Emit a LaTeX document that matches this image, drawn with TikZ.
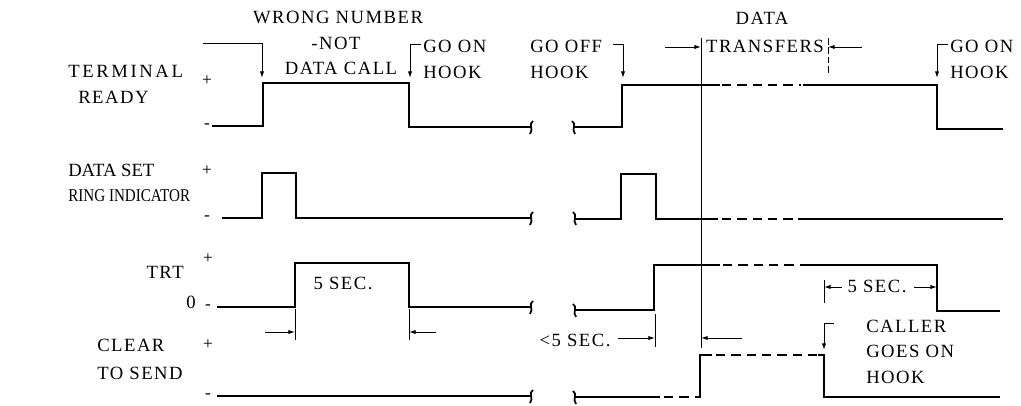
\documentclass[tikz,border=0pt]{standalone}
\usepackage{fontspec}
\setmainfont{Liberation Serif}
\newfontfamily\lblA{Liberation Serif}[LetterSpace=8]
\newfontfamily\lblB{Liberation Serif}[LetterSpace=14]
\newfontfamily\lblC{Liberation Serif}[LetterSpace=0]
\usetikzlibrary{arrows.meta}
\newcommand\sigbreak[3]{% #1 x, #2 y, #3 = 1 left end, -1 right start
  \draw[sig, line width=1.3pt] (#1+2*#3,#2-6) .. controls (#1-3*#3,#2-3) and (#1+3*#3,#2+2) .. (#1-1*#3,#2+7);}
\begin{document}
\begin{tikzpicture}[x=0.75pt,y=-0.75pt,
  sig/.style={line width=1.5pt, line join=miter},
  dsig/.style={sig, dash pattern=on 7pt off 4.5pt},
  ann/.style={line width=0.7pt},
  arr/.style={ann, -{Latex[length=5pt,width=3.2pt]}},
  lbl/.style={inner sep=0pt, font=\lblA\fontsize{14}{16}\selectfont},
  lblwide/.style={inner sep=0pt, font=\lblB\fontsize{14}{16}\selectfont},
  lbltight/.style={inner sep=0pt, font=\lblC\fontsize{14}{16}\selectfont},
  lblring/.style={inner sep=0pt, font=\lblC\fontsize{13.5}{16}\selectfont},
  pm/.style={inner sep=0pt, font=\lblC\fontsize{13}{15}\selectfont}]
\useasboundingbox (0,0) rectangle (1021,406);

% ---------- row labels ----------
\node[lblwide, anchor=west] (tr1) at (68,71) {TERMINAL};
\node[lbl, anchor=west] (tr2) at (78,97) {READY};
\node[pm] (trp) at (207,81) {+};
\node[pm] (trm) at (207,126) {-};

\node[lbltight, anchor=west] (ri1) at (68,170) {DATA SET};
\node[lblring, anchor=west] (ri2) at (68,196) {\scalebox{0.84}[1]{RING INDICATOR}};
\node[pm] (rip) at (207,171) {+};
\node[pm] (rim) at (207,218) {-};

\node[lbl, anchor=east] (trt) at (184,272) {TRT};
\node[lbl] (trt0) at (191,302) {0};
\node[pm] (trtp) at (208,259) {+};
\node[pm] (trtm) at (208,307) {-};

\node[lbl, anchor=west] (cs1) at (97,345) {CLEAR};
\node[lbl, anchor=west] (cs2) at (97,373) {TO SEND};
\node[pm] (csp) at (208,345) {+};
\node[pm] (csm) at (208,396) {-};

% ---------- annotation texts ----------
\node[lbl] (wn1) at (338,17) {WRONG NUMBER};
\node[lbl] (wn2) at (336,43) {-NOT};
\node[lbl] (wn3) at (341,68) {DATA CALL};
\node[lbl, anchor=west] (gon1) at (423,46) {GO ON};
\node[lbl, anchor=west] (gon2) at (423,72) {HOOK};
\node[lbl, anchor=west] (gof1) at (530,46) {GO OFF};
\node[lbl, anchor=west] (gof2) at (530,72) {HOOK};
\node[lbl, anchor=west] (gor1) at (950,46) {GO ON};
\node[lbl, anchor=west] (gor2) at (950,72) {HOOK};
\node[lbl] (dt1) at (762,18) {DATA};
\node[lbl] (dt2) at (765,46) {TRANSFERS};
\node[lbl] (s5a) at (343,283) {5 SEC.};
\node[lbl] (s5b) at (575,340) {<5 SEC.};
\node[lbl] (s5c) at (877,286) {5 SEC.};
\node[lbl, anchor=west] (cl1) at (866,326) {CALLER};
\node[lbl, anchor=west] (cl2) at (866,351) {GOES ON};
\node[lbl, anchor=west] (cl3) at (866,377) {HOOK};

% ---------- waveforms ----------
% Terminal ready
\draw[sig] (212,126) -- (263,126) -- (263,83) -- (409,83) -- (409,127) -- (531,127);
\sigbreak{531}{127}{1}
\sigbreak{574}{127}{-1}
\draw[sig] (574,127) -- (622,127) -- (622,85) -- (720,85);
\draw[dsig] (722,85) -- (801,85);
\draw[sig] (803,85) -- (937,85) -- (937,129) -- (1003,129);
% Ring indicator
\draw[sig] (222,218) -- (262,218) -- (262,173) -- (296,173) -- (296,218) -- (531,218);
\sigbreak{531}{218}{1}
\sigbreak{575}{218}{-1}
\draw[sig] (575,219) -- (621,219) -- (621,174) -- (656,174) -- (656,219) -- (718,219);
\draw[dsig] (722,219) -- (795,219);
\draw[sig] (798,219) -- (1003,219);
% TRT
\draw[sig] (217,307) -- (295,307) -- (295,263) -- (409,263) -- (409,307) -- (531,307);
\sigbreak{531}{307}{1}
\sigbreak{575}{310}{-1}
\draw[sig] (575,310) -- (654,310) -- (654,265) -- (720,265);
\draw[dsig] (723,265) -- (797,265);
\draw[sig] (800,265) -- (937,265) -- (937,311) -- (1000,311);
% Clear to send
\draw[sig] (217,396) -- (531,396);
\sigbreak{531}{396}{1}
\sigbreak{575}{397}{-1}
\draw[sig] (575,397) -- (660,397);
\draw[dsig] (664,397) -- (697,397);
\draw[sig] (697,397) -- (700,397) -- (700,355) -- (712,355);
\draw[dsig] (716,355) -- (818,355);
\draw[sig] (818,355) -- (824,355) -- (824,397) -- (1000,397);

% ---------- annotation lines ----------
\coordinate (wnA) at (203,43);
\coordinate (wnT) at (262,78);
\draw[arr] (wnA) -| (wnT);
\coordinate (gonA) at (421,44);
\coordinate (gonT) at (410,78);
\draw[arr] (gonA) -| (gonT);
\coordinate (gofA) at (613,44);
\coordinate (gofT) at (623,78);
\draw[arr] (gofA) -| (gofT);
\coordinate (gorA) at (948,44);
\coordinate (gorT) at (937,78);
\draw[arr] (gorA) -| (gorT);

\coordinate (dvTop) at (701,38);
\coordinate (dvBot) at (701,348);
\draw[line width=0.5pt] (dvTop) -- (dvBot);
\coordinate (dv2Top) at (828,38);
\coordinate (dv2Bot) at (828,74);
\draw[line width=0.5pt, dash pattern=on 5pt off 2pt] (dv2Top) -- (dv2Bot);
\coordinate (dtL) at (665,47);
\coordinate (dtLt) at (701,47);
\draw[arr] (dtL) -- (dtLt);
\coordinate (dtR) at (862,47);
\coordinate (dtRt) at (828,47);
\draw[arr] (dtR) -- (dtRt);

% 5 sec left
\coordinate (t1a) at (295,309);
\coordinate (t1b) at (295,340);
\coordinate (t2a) at (409,309);
\coordinate (t2b) at (409,340);
\draw[ann] (t1a) -- (t1b);
\draw[ann] (t2a) -- (t2b);
\coordinate (a1) at (265,332);
\coordinate (a1t) at (295,332);
\coordinate (a2) at (436,332);
\coordinate (a2t) at (409,332);
\draw[arr] (a1) -- (a1t);
\draw[arr] (a2) -- (a2t);

% <5 sec
\coordinate (t3a) at (655,314);
\coordinate (t3b) at (655,347);
\draw[ann] (t3a) -- (t3b);
\coordinate (a3) at (618,338);
\coordinate (a3t) at (655,338);
\draw[arr] (a3) -- (a3t);
\coordinate (a4) at (742,338);
\coordinate (a4t) at (701,338);
\draw[arr] (a4) -- (a4t);

% 5 sec right
\coordinate (t4a) at (824,280);
\coordinate (t4b) at (824,303);
\draw[ann] (t4a) -- (t4b);
\coordinate (a5) at (842,287);
\coordinate (a5t) at (824,287);
\draw[arr] (a5) -- (a5t);
\coordinate (a6) at (914,287);
\coordinate (a6t) at (937,287);
\draw[arr] (a6) -- (a6t);

% caller goes on hook
\coordinate (clA) at (834,323);
\coordinate (clT) at (824,350);
\draw[arr] (clA) -| (clT);
\end{tikzpicture}
\end{document}
